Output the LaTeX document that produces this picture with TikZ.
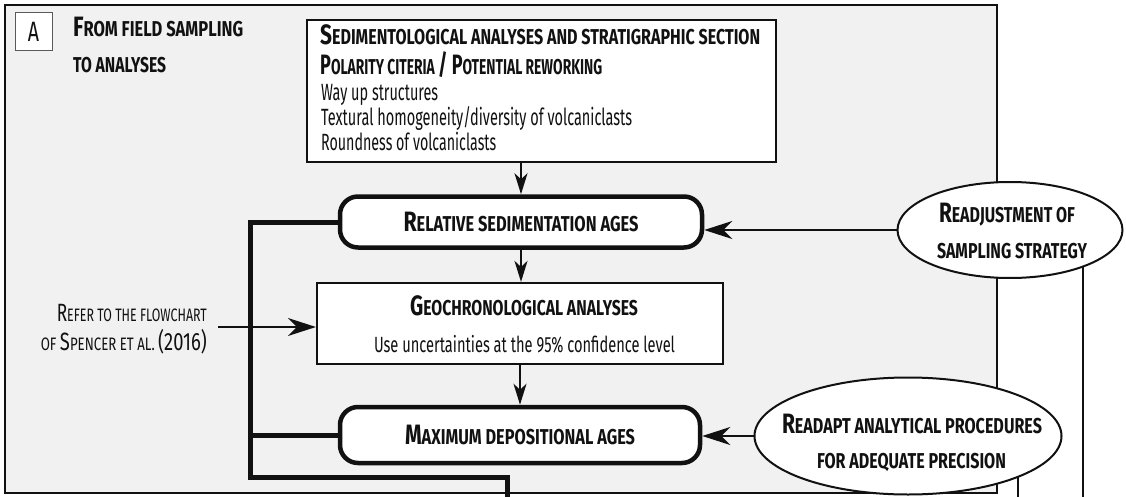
\documentclass[tikz,border=0pt]{standalone}
\usepackage{fontspec}
\usepackage{graphicx}
\setmainfont{Fira Sans}[FakeStretch=0.7, BoldFeatures={FakeStretch=0.74}]
\usetikzlibrary{arrows.meta,shapes.geometric}
\definecolor{panelgray}{HTML}{F1F1F1}
\definecolor{ink}{HTML}{111111}
\newcommand{\hsc}[2]{{\fontsize{28}{28}\selectfont #1}{\fontsize{21.5}{21.5}\selectfont #2}}
\newcommand{\hsm}[1]{{\fontsize{21.5}{21.5}\selectfont #1}}
\newcommand{\rsc}[2]{{\fontsize{25}{25}\selectfont #1}{\fontsize{18}{18}\selectfont #2}}
\newlength{\fitlen}
\newcommand{\fitw}[2]{\settowidth{\fitlen}{#2}\pgfmathsetmacro{\fitfac}{#1/\fitlen}\scalebox{\fitfac}[1]{#2}}
\tikzset{
  panel/.style={draw=ink, line width=2pt, fill=panelgray},
  sqbox/.style={draw=ink, line width=2.2pt, fill=white, rectangle, inner sep=0pt},
  rndbox/.style={draw=ink, line width=4.5pt, fill=white, rectangle, rounded corners=18pt, inner sep=0pt, font=\bfseries, text=ink},
  oval/.style={draw=ink, line width=2pt, fill=white, ellipse, inner sep=0pt},
  head/.style={font=\bfseries, inner sep=0pt, text=ink},
  plain/.style={font=\fontsize{23.5}{23.5}\selectfont, inner sep=0pt, text=ink},
  thickline/.style={draw=ink, line width=5pt},
  thinline/.style={draw=ink, line width=2pt},
  harrow/.style={draw=ink, line width=2pt, -{Stealth[length=28pt,width=18pt,inset=9pt]}},
  varrow/.style={draw=ink, line width=2pt, -{Stealth[length=21pt,width=13pt,inset=6pt]}}
}
\begin{document}
\begin{tikzpicture}[x=1pt,y=-1pt]
\useasboundingbox (0,0) rectangle (1126,497);
% panel
\path[panel] (5,5) rectangle (997,493);
\node[draw=black!65, line width=1pt, fill=white, minimum width=37pt, minimum height=38pt, inner sep=0pt, text=ink, font=\fontsize{28}{28}\selectfont] (lab) at (33.5,32) {A};
\node[head, anchor=base west] (tit1) at (73,37) {\fitw{170}{\hsc{F}{ROM FIELD SAMPLING}}};
\node[head, anchor=base west] (tit2) at (73,73) {\fitw{93}{\hsm{TO ANALYSES}}};

% coordinates
\coordinate (e1c) at (1010,230);
\coordinate (e2c) at (908,436);
\coordinate (o1) at (507,497);
\coordinate (o2) at (1083,497);
\coordinate (o3) at (1018,497);
\coordinate (j1) at (250,477);
\coordinate (refa) at (218,327);

% outgoing lines under ellipses
\path[thinline] (o2) -- (o2 |- e1c);
\path[thinline] (o3) -- (o3 |- e2c);

% sediment box
\node[sqbox, minimum width=469pt, minimum height=142pt] (sed) at (541.5,91) {};
\node[head, anchor=base west] (s1) at (320,45) {\fitw{440}{\hsc{S}{EDIMENTOLOGICAL ANALYSES AND STRATIGRAPHIC SECTION}}};
\node[head, anchor=base west] (s2) at (320,75) {\fitw{282}{\hsc{P}{OLARITY CITERIA }\hsc{/ P}{OTENTIAL REWORKING}}};
\node[plain, anchor=base west] (s3) at (321,101) {\fitw{117}{Way up structures}};
\node[plain, anchor=base west] (s4) at (321,126) {\fitw{311}{Textural homogeneity/diversity of volcaniclasts}};
\node[plain, anchor=base west] (s5) at (321,151) {\fitw{175}{Roundness of volcaniclasts}};

% relative
\node[rndbox, minimum width=362pt, minimum height=51pt] (rel) at (521,222) {\fitw{235}{\hsc{R}{ELATIVE SEDIMENTATION AGES}}};
% geo
\node[sqbox, minimum width=406pt, minimum height=81pt] (geo) at (520,323.5) {};
\node[head, anchor=base] (g1) at (524,315) {\fitw{228}{\hsc{G}{EOCHRONOLOGICAL ANALYSES}}};
\node[plain, anchor=base, font=\fontsize{22}{22}\selectfont] (g2) at (524.5,352) {\fitw{301}{Use uncertainties at the 95\% confidence level}};
% max
\node[rndbox, minimum width=360pt, minimum height=56pt] (max) at (520,435) {\fitw{230}{\hsc{M}{AXIMUM DEPOSITIONAL AGES}}};

% ellipses
\node[oval, minimum width=225pt, minimum height=96pt] (e1) at (e1c) {};
\node[head, anchor=base] (e1t1) at (1007,222) {\fitw{136}{\hsc{R}{EADJUSTMENT OF}}};
\node[head, anchor=base] (e1t2) at (1012,258) {\fitw{150}{\hsm{SAMPLING STRATEGY}}};
\node[oval, minimum width=307pt, minimum height=117pt] (e2) at (e2c) {};
\node[head, anchor=base] (e2t1) at (912,433) {\fitw{260}{\hsc{R}{EADAPT ANALYTICAL PROCEDURES}}};
\node[head, anchor=base] (e2t2) at (911.5,468) {\fitw{189}{\hsm{FOR ADEQUATE PRECISION}}};

% refer text
\node[inner sep=0pt, anchor=base east, text=ink] (r1) at (207,321) {\fitw{150}{\rsc{R}{EFER TO THE FLOWCHART}}};
\node[inner sep=0pt, anchor=base east, text=ink] (r2) at (207,350) {\fitw{166}{\rsc{}{OF }\rsc{S}{PENCER ET AL. }{\fontsize{25}{25}\selectfont (2016)}}};

% thick connectors
\path[thickline] (rel.west) -- (rel.west -| j1) -- (j1) -- (j1 -| o1) -- (o1);
\path[thickline] (max.west) -- (max.west -| j1);

% arrows
\path[varrow] (rel.north |- sed.south) -- (rel.north);
\path[varrow] (rel.south) -- (geo.north -| rel.south);
\path[varrow] (geo.south) -- (max.north);
\path[harrow] (refa) -- (refa -| geo.west);
\path[harrow] (e1.west) -- (e1.west -| rel.east);
\path[harrow] (e2.west) -- (e2.west -| max.east);
\end{tikzpicture}
\end{document}
